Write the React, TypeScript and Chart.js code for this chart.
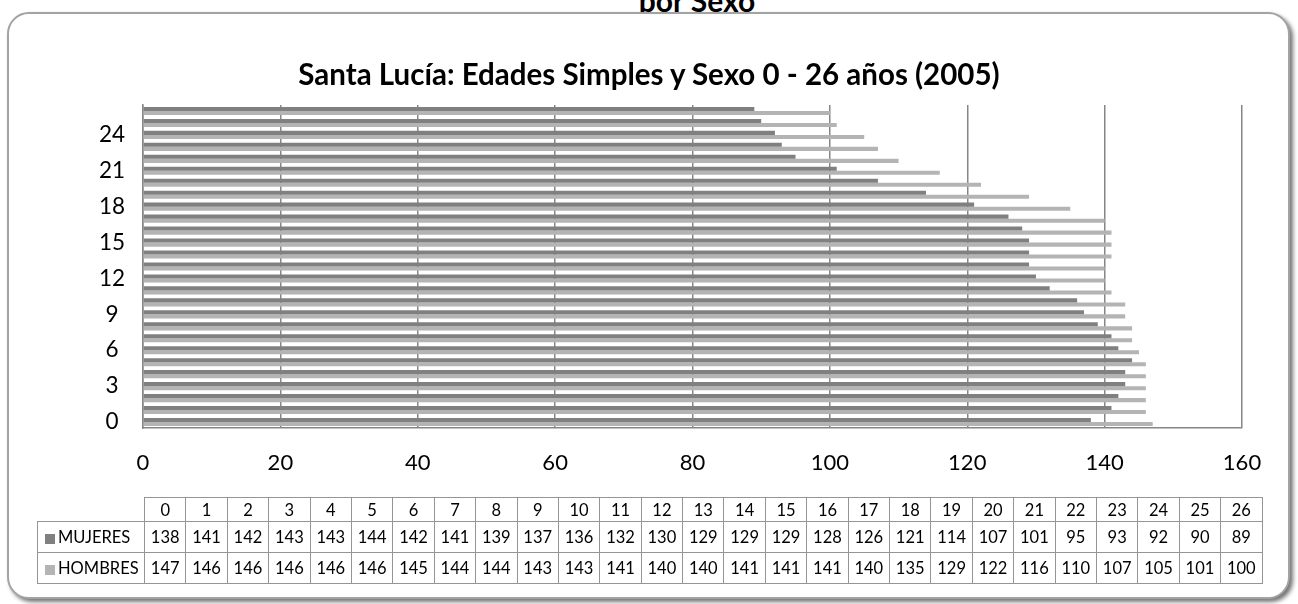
import React, { useEffect, useRef } from "react";
import { Chart, registerables } from "chart.js";

Chart.register(...registerables);

const AGES = ["0","1","2","3","4","5","6","7","8","9","10","11","12","13","14","15","16","17","18","19","20","21","22","23","24","25","26"];
const MUJERES = [138,141,142,143,143,144,142,141,139,137,136,132,130,129,129,129,128,126,121,114,107,101,95,93,92,90,89];
const HOMBRES = [147,146,146,146,146,146,145,144,144,143,143,141,140,140,141,141,141,140,135,129,122,116,110,107,105,101,100];
const X_TICKS = [0,20,40,60,80,100,120,140,160];

const TITLE = "Santa Lucía: Edades Simples y Sexo 0 - 26 años (2005)";
const TOP_CUT = "por Sexo";
const DARK = "#808080";
const LIGHT = "#b4b4b4";
const FONT = "Lato, 'Open Sans', sans-serif";

const LABEL_W = 107;
const COL_W = 41.4;

export default function App() {
  const ref = useRef<HTMLCanvasElement | null>(null);

  useEffect(() => {
    if (!ref.current) return;
    const chart = new Chart(ref.current, {
      type: "bar",
      data: {
        labels: AGES,
        datasets: [
          { label: "MUJERES", data: MUJERES, backgroundColor: DARK, borderWidth: 0, categoryPercentage: 0.68, barPercentage: 1.0 },
          { label: "HOMBRES", data: HOMBRES, backgroundColor: LIGHT, borderWidth: 0, categoryPercentage: 0.68, barPercentage: 1.0 },
        ],
      },
      options: {
        indexAxis: "y",
        responsive: false,
        animation: false,
        layout: { padding: { left: 80, right: 56, top: 105, bottom: 116 } },
        plugins: { legend: { display: false }, title: { display: false }, tooltip: { enabled: false } },
        scales: {
          x: {
            type: "linear",
            min: X_TICKS[0],
            max: X_TICKS[X_TICKS.length - 1],
            afterBuildTicks: (s: any) => { s.ticks = X_TICKS.map((v) => ({ value: v })); },
            afterFit: (s: any) => { s.height = 60; },
            ticks: { font: { family: FONT, size: 22 }, color: "#000", padding: 22 },
            grid: { color: "#868686", lineWidth: 1.5, drawTicks: false },
            border: { color: "#868686", width: 1.5 },
          },
          y: {
            reverse: true,
            afterFit: (s: any) => { s.width = 63; },
            ticks: {
              autoSkip: false,
              crossAlign: "center",
              padding: 18,
              font: { family: FONT, size: 22.5 },
              color: "#000",
              callback: (_v: any, i: number) => (i % 3 === 0 ? AGES[i] : ""),
            },
            grid: { display: false, drawTicks: false },
            border: { color: "#868686", width: 1.5 },
          },
        },
      },
    });
    return () => chart.destroy();
  }, []);

  const cellStyle: React.CSSProperties = {
    boxSizing: "border-box",
    border: "1.5px solid #959595",
    padding: 0,
    textAlign: "center",
    fontFamily: FONT,
    fontSize: 16.5,
    color: "#000",
    overflow: "hidden",
    whiteSpace: "nowrap",
  };
  const labelStyle: React.CSSProperties = { ...cellStyle, textAlign: "left", paddingLeft: 7 };
  const key = (c: string) => (
    <span style={{ display: "inline-block", width: 10, height: 10, background: c, marginRight: 3, verticalAlign: "-1px" }} />
  );

  return (
    <div style={{ position: "absolute", left: 0, top: 0, width: 1298, height: 604, overflow: "hidden", background: "#fff" }}>
      <div style={{ position: "absolute", left: 547, width: 300, top: -17, textAlign: "center", fontFamily: FONT, fontWeight: 700, fontSize: 30, lineHeight: "34px" }}>{TOP_CUT}</div>
      <div style={{ position: "absolute", left: 7, top: 12, width: 1279, height: 583, border: "2px solid #a3a3a3", borderRadius: 22, boxShadow: "3px 3px 4px rgba(0,0,0,0.55)", background: "#fff" }} />
      <canvas ref={ref} width={1298} height={604} style={{ position: "absolute", left: 0, top: 0, width: 1298, height: 604 }} />
      <div style={{ position: "absolute", left: 0, width: 1298, top: 56, textAlign: "center", fontFamily: FONT, fontWeight: 700, fontSize: 29.5, lineHeight: "36px", color: "#000" }}>{TITLE}</div>
      <table style={{ position: "absolute", left: 37, top: 497, width: LABEL_W + COL_W * AGES.length, borderCollapse: "collapse", tableLayout: "fixed" }}>
        <colgroup>
          <col style={{ width: LABEL_W }} />
          {AGES.map((a) => <col key={a} style={{ width: COL_W }} />)}
        </colgroup>
        <tbody>
          <tr style={{ height: 24 }}>
            <td style={{ ...labelStyle, border: "none" }}></td>
            {AGES.map((a) => <td key={a} style={cellStyle}>{a}</td>)}
          </tr>
          <tr style={{ height: 31 }}>
            <td style={labelStyle}>{key(DARK)}MUJERES</td>
            {MUJERES.map((v, i) => <td key={i} style={cellStyle}>{v}</td>)}
          </tr>
          <tr style={{ height: 31 }}>
            <td style={labelStyle}>{key(LIGHT)}HOMBRES</td>
            {HOMBRES.map((v, i) => <td key={i} style={cellStyle}>{v}</td>)}
          </tr>
        </tbody>
      </table>
    </div>
  );
}
